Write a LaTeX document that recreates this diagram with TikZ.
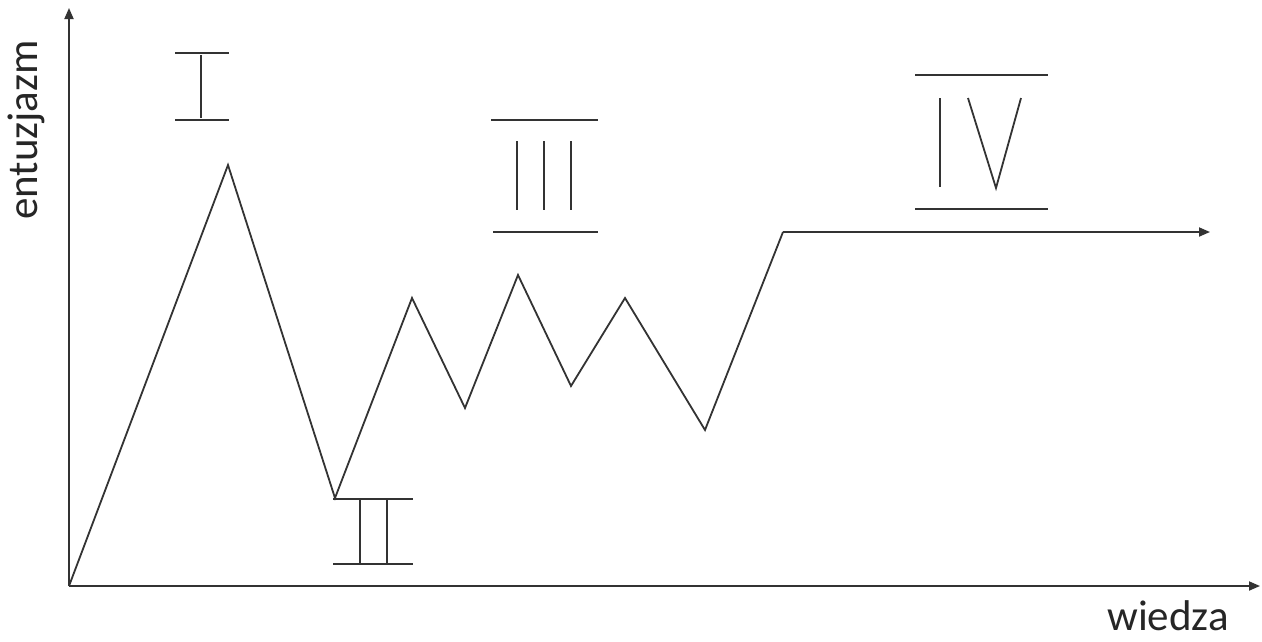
\documentclass[tikz,border=0pt]{standalone}
\usepackage{fontspec}
\setmainfont{Carlito}
\usetikzlibrary{arrows.meta}
\begin{document}
\begin{tikzpicture}[x=1pt,y=-1pt,
  ln/.style={line width=1.8pt,draw=black!80},
  arr/.style={ln,-{Triangle[length=11pt,width=9pt]}},
  lbl/.style={font=\fontsize{43}{48}\selectfont,text=black!85,inner sep=0pt}]
\useasboundingbox[fill=white] (0,0) rectangle (1262,641);
% axes
\coordinate (O) at (69,586);
\coordinate (Ytop) at (69,8);
\coordinate (Xend) at (1260,586);
\draw[arr] (O) -- (Ytop);
\draw[arr] (O) -- (Xend);
\node[lbl,rotate=90] (ylab) at (26,130) {entuzjazm};
\node[lbl,anchor=base] (xlab) at (1168,630) {wiedza};
% curve
\coordinate (p1) at (228,165);
\coordinate (p2) at (335,498);
\coordinate (p3) at (412,298);
\coordinate (p4) at (465,408);
\coordinate (p5) at (518,275);
\coordinate (p6) at (571,386);
\coordinate (p7) at (625,298);
\coordinate (p8) at (705,430);
\coordinate (p9) at (783,232);
\coordinate (p10) at (1210,232);
\draw[ln,line join=miter] (O) -- (p1) -- (p2) -- (p3) -- (p4) -- (p5) -- (p6) -- (p7) -- (p8) -- (p9);
\draw[arr] (p9) -- (p10);
% I
\draw[ln] (175,53) -- (229,53);
\draw[ln] (175,120) -- (229,120);
\draw[ln] (201,55) -- (201,118);
% II
\draw[ln] (333,499) -- (413,499);
\draw[ln] (333,564) -- (413,564);
\draw[ln] (360,499) -- (360,564);
\draw[ln] (387,499) -- (387,564);
% III
\draw[ln] (491,120) -- (598,120);
\draw[ln] (493,232) -- (598,232);
\draw[ln] (517,141) -- (517,210);
\draw[ln] (544,141) -- (544,210);
\draw[ln] (571,141) -- (571,210);
% IV
\draw[ln] (915,75) -- (1048,75);
\draw[ln] (915,209) -- (1048,209);
\draw[ln] (940,98) -- (940,187);
\draw[ln,line join=miter] (968,98) -- (996,188) -- (1021,98);
\end{tikzpicture}
\end{document}
